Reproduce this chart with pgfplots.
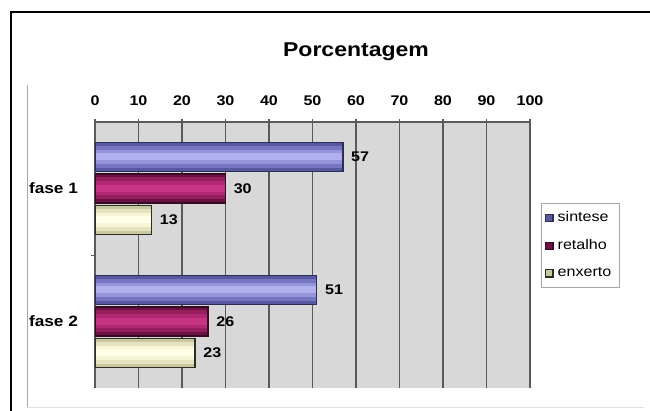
\documentclass[border=0pt]{standalone}
\usepackage{fontspec}
\setmainfont{Liberation Sans}[FakeStretch=1.15]
\usepackage{pgfplots}
\pgfplotsset{compat=1.18}
\definecolor{plotbg}{RGB}{216,216,216}
\definecolor{gridc}{RGB}{90,90,90}
\definecolor{sinA}{RGB}{88,88,160}
\definecolor{sinB}{RGB}{118,118,194}
\definecolor{sinC}{RGB}{148,148,218}
\definecolor{sinE}{RGB}{176,176,236}
\definecolor{sinD}{RGB}{45,45,90}
\definecolor{retA}{RGB}{108,18,66}
\definecolor{retB}{RGB}{148,30,94}
\definecolor{retC}{RGB}{178,40,114}
\definecolor{retE}{RGB}{200,52,132}
\definecolor{retD}{RGB}{55,10,35}
\definecolor{enxA}{RGB}{200,200,160}
\definecolor{enxB}{RGB}{228,228,192}
\definecolor{enxC}{RGB}{246,246,214}
\definecolor{enxE}{RGB}{255,255,232}
\definecolor{enxD}{RGB}{45,45,35}
% inner gradient layers of one bar: value, y, shift, colour B, C, E
\newcommand{\layers}[6]{%
  \addplot[forget plot, draw=none, fill=#4, bar width=11pt, bar shift=#3] coordinates {(#1,#2)};
  \addplot[forget plot, draw=none, fill=#5, bar width=7pt, bar shift=#3] coordinates {(#1,#2)};
  \addplot[forget plot, draw=none, fill=#6, bar width=3.5pt, bar shift=#3] coordinates {(#1,#2)};
}
% outline and value label: value, y, shift, border colour
\newcommand{\outl}[4]{%
  \addplot[forget plot, draw=#4, fill=none, line width=0.6pt, bar shift=#3, nodes near coords] coordinates {(#1,#2)};
}
\begin{document}
\begin{tikzpicture}[x=1pt,y=1pt]
\useasboundingbox (0,0) rectangle (325,205.5);
\draw[black, line width=0.8pt] (5.5,0) -- (5.5,199.5) -- (325,199.5);
\draw[gray!70, line width=0.5pt] (13.5,1.5) -- (13.5,163);
\draw[gray!25, line width=0.5pt] (13.5,1.5) -- (322,1.5);
\node[font=\bfseries\fontsize{10}{12}\selectfont] at (178,179.5) {Porcentagem};
\begin{axis}[
  at={(47.5pt,11.5pt)}, anchor=south west,
  scale only axis, width=217.5pt, height=133pt,
  xmin=0, xmax=100, ymin=-0.5, ymax=1.5,
  xtick={0,10,...,100},
  xtick pos=right, xticklabel pos=right,
  xticklabel style={font=\bfseries\fontsize{7}{8}\selectfont, yshift=3pt},
  /pgf/number format/assume math mode=true,
  ytick={0,1}, yticklabels={fase 2, fase 1},
  ytick pos=left,
  yticklabel style={font=\bfseries\fontsize{7.5}{9}\selectfont, xshift=-2pt},
  ytick style={draw=none},
  xtick style={draw=gridc, line width=0.6pt},
  tick align=center, major tick length=3pt,
  extra y ticks={0.5}, extra y tick labels={},
  extra y tick style={ytick style={draw=gridc}, tick align=outside, major tick length=2pt},
  axis background/.style={fill=plotbg},
  axis line style={draw=none},
  xmajorgrids, grid style={gridc, line width=0.6pt},
  xbar, bar width=14.5pt,
  every node near coord/.append style={font=\bfseries\fontsize{7}{8}\selectfont, text=black, xshift=0.5pt},
  legend style={at={(1.025,0.695)}, anchor=north west, draw=gray!70, fill=white,
     font=\fontsize{7}{8}\selectfont, row sep=3.4pt, inner sep=2pt,
     legend cell align=left},
  legend image code/.code={\draw[#1,/tikz/.cd,bar width=3pt,bar shift=0pt] (0pt,-1.8pt) rectangle (3.6pt,1.8pt);},
]
% fase 1
\addplot[draw=sinD, fill=sinA, line width=0.6pt, bar shift=15.75pt] coordinates {(57,1)};
\addlegendentry{sintese}
\layers{57}{1}{15.75pt}{sinB}{sinC}{sinE}
\outl{57}{1}{15.75pt}{sinD}
\addplot[draw=retD, fill=retA, line width=0.6pt, bar shift=0pt] coordinates {(30,1)};
\addlegendentry{retalho}
\layers{30}{1}{0pt}{retB}{retC}{retE}
\outl{30}{1}{0pt}{retD}
\addplot[draw=enxD, fill=enxA, line width=0.6pt, bar shift=-15.75pt] coordinates {(13,1)};
\addlegendentry{enxerto}
\layers{13}{1}{-15.75pt}{enxB}{enxC}{enxE}
\outl{13}{1}{-15.75pt}{enxD}
% fase 2
\addplot[forget plot, draw=none, fill=sinA, bar shift=15.75pt] coordinates {(51,0)};
\layers{51}{0}{15.75pt}{sinB}{sinC}{sinE}
\outl{51}{0}{15.75pt}{sinD}
\addplot[forget plot, draw=none, fill=retA, bar shift=0pt] coordinates {(26,0)};
\layers{26}{0}{0pt}{retB}{retC}{retE}
\outl{26}{0}{0pt}{retD}
\addplot[forget plot, draw=none, fill=enxA, bar shift=-15.75pt] coordinates {(23,0)};
\layers{23}{0}{-15.75pt}{enxB}{enxC}{enxE}
\outl{23}{0}{-15.75pt}{enxD}
\draw[gridc, line width=1pt] (rel axis cs:0,1) -- (rel axis cs:1,1);
\end{axis}
\end{tikzpicture}
\end{document}
